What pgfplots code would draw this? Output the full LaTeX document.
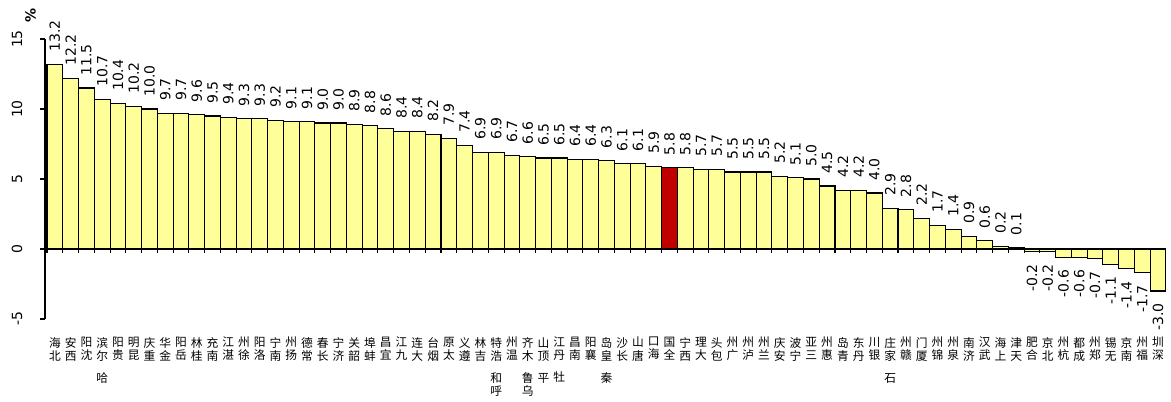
\documentclass[border=0pt]{standalone}
\usepackage{fontspec}
\setmainfont{DejaVu Sans}
\newfontfamily\cjk{Noto Sans CJK SC}
\usepackage{pgfplots}
\usepackage{pgfplotstable}
\pgfplotsset{compat=1.18}
\definecolor{baryellow}{HTML}{FFFF99}
\definecolor{barred}{HTML}{C00000}

\pgfplotstableread{
x y
0 13.2
1 12.2
2 11.5
3 10.7
4 10.4
5 10.2
6 10.0
7 9.7
8 9.7
9 9.6
10 9.5
11 9.4
12 9.3
13 9.3
14 9.2
15 9.1
16 9.1
17 9.0
18 9.0
19 8.9
20 8.8
21 8.6
22 8.4
23 8.4
24 8.2
25 7.9
26 7.4
27 6.9
28 6.9
29 6.7
30 6.6
31 6.5
32 6.5
33 6.4
34 6.4
35 6.3
36 6.1
37 6.1
38 5.9
40 5.8
41 5.7
42 5.7
43 5.5
44 5.5
45 5.5
46 5.2
47 5.1
48 5.0
49 4.5
50 4.2
51 4.2
52 4.0
53 2.9
54 2.8
55 2.2
56 1.7
57 1.4
58 0.9
59 0.6
60 0.2
61 0.1
}\pos

\pgfplotstableread{
x y
39 5.8
}\national

\pgfplotstableread{
x y
62 -0.2
63 -0.2
64 -0.6
65 -0.6
66 -0.7
67 -1.1
68 -1.4
69 -1.7
70 -3.0
}\neg

\pgfplotsset{
  vallabel/.style={
    nodes near coords={\pgfmathprintnumber[fixed,fixed zerofill,precision=1,assume math mode=true]{\pgfplotspointmeta}},
    every node near coord/.append style={rotate=90, anchor=#1, inner xsep=9pt, inner ysep=0pt, font=\fontsize{10.5}{12}\selectfont, black}
  }
}

\begin{document}
\begin{tikzpicture}
\useasboundingbox (-33.75pt,-61.5pt) rectangle (844.5pt,239.25pt);
\begin{axis}[
  at={(0pt,0pt)}, anchor=south west,
  scale only axis, width=840.7pt, height=210pt,
  xmin=-0.627, xmax=70.5, ymin=-5, ymax=15,
  clip=false,
  axis y line=left,
  axis x line*=bottom,
  axis line style={-, line width=0.9pt},
  x axis line style={draw=none},
  ytick={-5,0,5,10,15},
  tick align=outside,
  major tick length=3.5pt,
  y tick style={black, line width=0.9pt},
  x tick style={draw=none},
  /pgf/number format/assume math mode=true,
  yticklabel style={rotate=90, anchor=south, font=\fontsize{10.5}{12}\selectfont},
  yticklabel shift=10pt,
  xtick={0,...,70},
  xticklabels={
    {海\\北},{安\\西},{阳\\沈},{滨\\尔\\[6.75pt]哈},{阳\\贵},{明\\昆},{庆\\重},{华\\金},{阳\\岳},{林\\桂},
    {充\\南},{江\\湛},{州\\徐},{阳\\洛},{宁\\南},{州\\扬},{德\\常},{春\\长},{宁\\济},{关\\韶},
    {埠\\蚌},{昌\\宜},{江\\九},{连\\大},{台\\烟},{原\\太},{义\\遵},{林\\吉},{特\\浩\\[6.75pt]和\\呼},{州\\温},
    {齐\\木\\[6.75pt]鲁\\乌},{山\\顶\\[6.75pt]平},{江\\丹\\[6.75pt]牡},{昌\\南},{阳\\襄},{岛\\皇\\[6.75pt]秦},{沙\\长},{山\\唐},{口\\海},{国\\全},
    {宁\\西},{理\\大},{头\\包},{州\\广},{州\\泸},{州\\兰},{庆\\安},{波\\宁},{亚\\三},{州\\惠},
    {岛\\青},{东\\丹},{川\\银},{庄\\家\\[6.75pt]石},{州\\赣},{门\\厦},{州\\锦},{州\\泉},{南\\济},{汉\\武},
    {海\\上},{津\\天},{肥\\合},{京\\北},{州\\杭},{都\\成},{州\\郑},{锡\\无},{京\\南},{州\\福},
    {圳\\深}},
  xticklabel style={font=\cjk\fontsize{8.8}{9.75}\selectfont, align=center, anchor=north, inner sep=0pt, yshift=-10pt},
]
\addplot[ybar, bar width=1, bar shift=0pt, fill=baryellow, draw=black, line width=0.8pt, vallabel=west]
  table[x=x, y=y] {\pos};
\addplot[ybar, bar width=1, bar shift=0pt, fill=barred, draw=black, line width=0.8pt, vallabel=west]
  table[x=x, y=y] {\national};
\addplot[ybar, bar width=1, bar shift=0pt, fill=baryellow, draw=black, line width=0.8pt, vallabel=east]
  table[x=x, y=y] {\neg};
\draw[line width=0.9pt] (axis cs:-0.627,0) -- (axis cs:70.5,0);
\pgfplotsinvokeforeach{-0.5,0.5,...,70.5}{
  \draw[line width=0.8pt] (axis cs:#1,0) -- (axis cs:#1,-0.28);
}
\end{axis}
\node[rotate=90, font=\bfseries\fontsize{10.5}{12}\selectfont] at (-10.9pt,227.6pt) {\%};
\end{tikzpicture}
\end{document}
